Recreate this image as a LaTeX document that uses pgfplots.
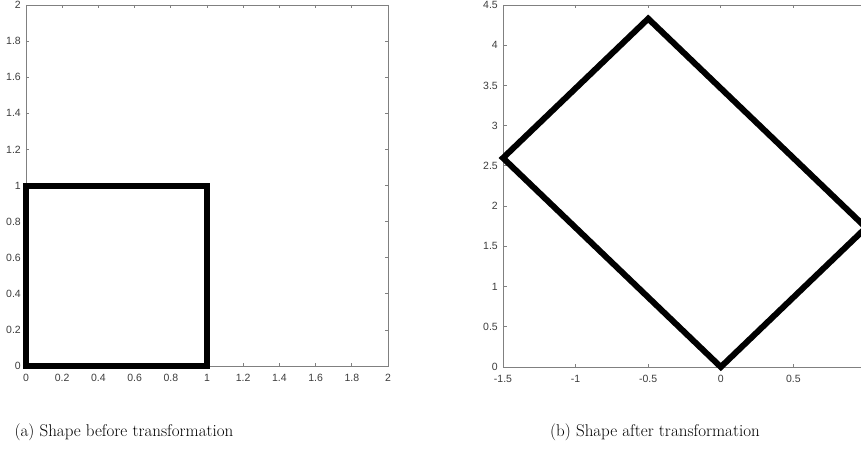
\documentclass[border=0pt]{standalone}
\usepackage{pgfplots}
\pgfplotsset{compat=1.18}
\usepackage{fontspec}
\newfontfamily\ticksf{Liberation Sans}
\definecolor{axgray}{RGB}{128,128,128}
\definecolor{lblgray}{RGB}{60,60,60}
\pgfplotsset{
  matlab/.style={
    scale only axis,
    clip=false,
    axis line style={axgray, line width=0.8pt},
    tick style={axgray, line width=0.8pt},
    tick align=inside,
    major tick length=3.5pt,
    xtick pos=both, ytick pos=both,
    ticklabel style={font=\fontsize{10.5}{12}\selectfont\ticksf, text=lblgray},
    /pgf/number format/assume math mode=true,
    /pgf/number format/fixed,
    xticklabel style={anchor=north, inner sep=0pt, yshift=-8pt},
    yticklabel style={anchor=east, inner sep=0pt, xshift=-5pt},
  }
}
\begin{document}
\begin{tikzpicture}[x=1pt,y=1pt]
\useasboundingbox (0,0) rectangle (861,464);
% left axis
\begin{axis}[matlab,
  at={(26pt,98pt)}, anchor=south west,
  width=362pt, height=361pt,
  xmin=0, xmax=2, ymin=0, ymax=2,
  xtick={0,0.2,...,2.01}, ytick={0,0.2,...,2.01},
  xticklabels={0,0.2,0.4,0.6,0.8,1,1.2,1.4,1.6,1.8,2},
  yticklabels={0,0.2,0.4,0.6,0.8,1,1.2,1.4,1.6,1.8,2},
]
\addplot[black, line width=6pt, line join=miter] coordinates {(0,0) (1,0) (1,1) (0,1)} -- cycle;
\end{axis}
% right axis
\begin{axis}[matlab,
  at={(503pt,97pt)}, anchor=south west,
  width=363pt, height=362pt,
  xmin=-1.5, xmax=1, ymin=0, ymax=4.5,
  xtick={-1.5,-1,-0.5,0,0.5,1}, ytick={0,0.5,...,4.51},
  xticklabels={-1.5,-1,-0.5,0,0.5,{}},
  yticklabels={0,0.5,1,1.5,2,2.5,3,3.5,4,4.5},
]
\addplot[black, line width=6pt, line join=miter] coordinates {(0,0) (1,1.7321) (-0.5,4.3301) (-1.5,2.5981)} -- cycle;
\end{axis}
\node[anchor=base, font=\fontsize{17}{20}\selectfont, inner sep=0pt] at (124,28) {(a) Shape before transformation};
\node[anchor=base, font=\fontsize{17}{20}\selectfont, inner sep=0pt] at (655,28) {(b) Shape after transformation};
\end{tikzpicture}
\end{document}
